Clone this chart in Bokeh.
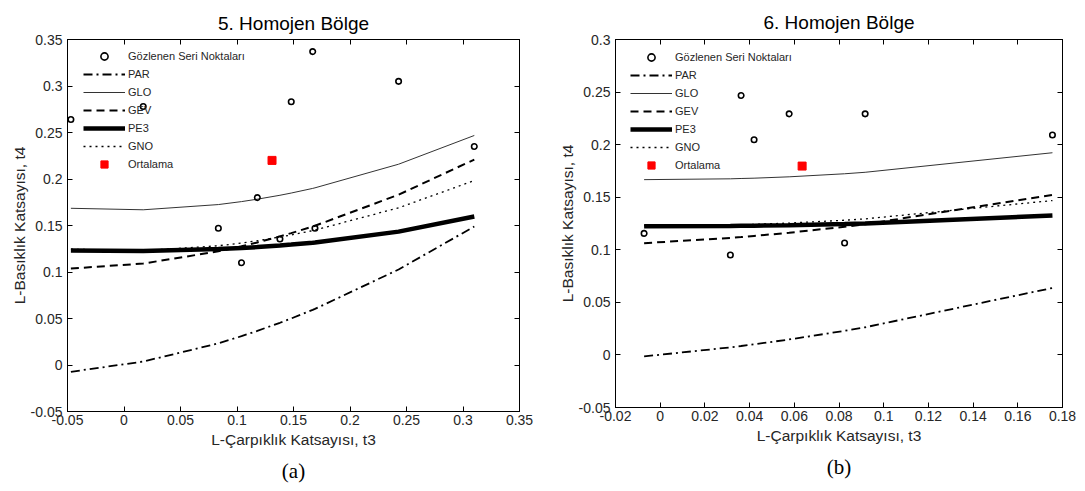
from bokeh.plotting import figure
from bokeh.layouts import row
from bokeh.models import (FixedTicker, Legend, LegendItem, LinearAxis, Range1d,
                          Title, CustomJSTickFormatter)
from bokeh.embed import file_html
from bokeh.resources import INLINE

# ---------------- Panel (a): 5. Homojen Bölge ----------------
title_a = "5. Homojen Bölge"
sub_a = "(a)"
obs_t3_a = [-0.047, 0.017, 0.0835, 0.104, 0.118, 0.138, 0.148, 0.167, 0.169, 0.243, 0.310]
obs_t4_a = [0.264, 0.278, 0.147, 0.110, 0.180, 0.1355, 0.283, 0.337, 0.147, 0.305, 0.235]
mean_t3_a = [0.131]
mean_t4_a = [0.220]
curve_t3_a = [-0.047, 0.017, 0.0835, 0.104, 0.118, 0.138, 0.148, 0.167, 0.169, 0.243, 0.310]
par_a = [-0.0073, 0.0037, 0.0233, 0.0310, 0.0367, 0.0454, 0.0500, 0.0593, 0.0603, 0.1027, 0.1489]
glo_a = [0.1685, 0.1669, 0.1725, 0.1757, 0.1783, 0.1825, 0.1849, 0.1899, 0.1905, 0.2159, 0.2468]
gev_a = [0.1037, 0.1091, 0.1222, 0.1277, 0.1318, 0.1383, 0.1418, 0.1489, 0.1497, 0.1831, 0.2209]
pe3_a = [0.1231, 0.1225, 0.1246, 0.1258, 0.1268, 0.1285, 0.1295, 0.1315, 0.1318, 0.1434, 0.1597]
gno_a = [0.1245, 0.1230, 0.1282, 0.1312, 0.1336, 0.1376, 0.1399, 0.1445, 0.1451, 0.1690, 0.1983]
xticks_a = [-0.05, 0, 0.05, 0.1, 0.15, 0.2, 0.25, 0.3, 0.35]
xlabels_a = ["-0.05", "0", "0.05", "0.1", "0.15", "0.2", "0.25", "0.3", "0.35"]
yticks_a = [-0.05, 0, 0.05, 0.1, 0.15, 0.2, 0.25, 0.3, 0.35]
ylabels_a = ["-0.05", "0", "0.05", "0.1", "0.15", "0.2", "0.25", "0.3", "0.35"]

# ---------------- Panel (b): 6. Homojen Bölge ----------------
title_b = "6. Homojen Bölge"
sub_b = "(b)"
obs_t3_b = [-0.0072, 0.0314, 0.0362, 0.0420, 0.0577, 0.0825, 0.0917, 0.1755]
obs_t4_b = [0.1156, 0.0950, 0.2468, 0.2046, 0.2293, 0.1064, 0.2293, 0.2091]
mean_t3_b = [0.0635]
mean_t4_b = [0.1796]
curve_t3_b = [-0.0072, 0.0314, 0.0362, 0.0420, 0.0577, 0.0825, 0.0917, 0.1755]
par_b = [-0.0014, 0.0072, 0.0085, 0.0101, 0.0147, 0.0229, 0.0263, 0.0637]
glo_b = [0.1667, 0.1675, 0.1678, 0.1681, 0.1694, 0.1723, 0.1737, 0.1923]
gev_b = [0.1063, 0.1113, 0.1121, 0.1132, 0.1162, 0.1219, 0.1243, 0.1522]
pe3_b = [0.1224, 0.1227, 0.1228, 0.1229, 0.1234, 0.1245, 0.1250, 0.1326]
gno_b = [0.1229, 0.1236, 0.1238, 0.1242, 0.1254, 0.1281, 0.1294, 0.1468]
xticks_b = [-0.02, 0, 0.02, 0.04, 0.06, 0.08, 0.1, 0.12, 0.14, 0.16, 0.18]
xlabels_b = ["-0.02", "0", "0.02", "0.04", "0.06", "0.08", "0.1", "0.12", "0.14", "0.16", "0.18"]
yticks_b = [-0.05, 0, 0.05, 0.1, 0.15, 0.2, 0.25, 0.3]
ylabels_b = ["-0.05", "0", "0.05", "0.1", "0.15", "0.2", "0.25", "0.3"]

xlabel = "L-Çarpıklık Katsayısı, t3"
ylabel = "L-Basıklık Katsayısı, t4"
legend_labels = ["Gözlenen Seri Noktaları", "PAR", "GLO", "GEV", "PE3", "GNO", "Ortalama"]

FONT = "Liberation Sans"
TXT = "#262626"


def fmt(ticks, labels):
    return CustomJSTickFormatter(
        args=dict(tvals=ticks, tlabs=labels),
        code="""
        for (let i = 0; i < tvals.length; i++) {
            if (Math.abs(tvals[i] - tick) < 1e-9) { return tlabs[i]; }
        }
        return "";
        """)


BLANK = CustomJSTickFormatter(code="return '';")


def style_axis(ax, ticks, labels, show):
    ax.ticker = FixedTicker(ticks=ticks)
    ax.major_tick_in = 5
    ax.major_tick_out = 0
    ax.minor_tick_in = 0
    ax.minor_tick_out = 0
    ax.minor_tick_line_color = None
    ax.axis_line_color = "black"
    ax.major_tick_line_color = "black"
    if show:
        ax.formatter = fmt(ticks, labels)
        ax.major_label_text_font = FONT
        ax.major_label_text_font_size = "14px"
        ax.major_label_text_color = TXT
        ax.axis_label_text_font = FONT
        ax.axis_label_text_font_size = "15.5px"
        ax.axis_label_text_font_style = "normal"
        ax.axis_label_text_color = TXT
    else:
        ax.formatter = BLANK
        ax.major_label_text_font_size = "1px"
        ax.major_label_standoff = 0


def panel(title, sub, xr, yr, fw, fh, bl, br, bt, bb, xt, xl, yt, yl,
          obs_x, obs_y, mx, my, cx, par, glo, gev, pe3, gno, leg_xy, title_so):
    p = figure(frame_width=fw, frame_height=fh,
               x_range=Range1d(*xr), y_range=Range1d(*yr),
               output_backend="svg", toolbar_location=None,
               min_border_left=bl, min_border_right=br,
               min_border_top=bt, min_border_bottom=bb)
    p.grid.visible = False
    p.background_fill_color = "white"
    p.border_fill_color = "white"
    p.outline_line_color = "black"
    p.outline_line_alpha = 1

    style_axis(p.xaxis[0], xt, xl, True)
    style_axis(p.yaxis[0], yt, yl, True)
    p.xaxis.axis_label = xlabel
    p.yaxis.axis_label = ylabel
    p.xaxis.major_label_standoff = 3
    p.xaxis.axis_label_standoff = 3
    p.yaxis.major_label_standoff = 5
    p.yaxis.axis_label_standoff = 0

    top = LinearAxis()
    style_axis(top, xt, xl, False)
    p.add_layout(top, "above")
    right = LinearAxis()
    style_axis(right, yt, yl, False)
    p.add_layout(right, "right")

    p.title.text = title
    p.title.align = "center"
    p.title.text_font = FONT
    p.title.text_font_size = "19px"
    p.title.text_font_style = "normal"
    p.title.text_color = "black"
    p.title.standoff = title_so

    r_par = p.line(cx, par, line_color="black", line_width=1.8, line_dash="9 4 2 4")
    r_glo = p.line(cx, glo, line_color="#333333", line_width=1)
    r_gev = p.line(cx, gev, line_color="black", line_width=2, line_dash="8 5")
    r_pe3 = p.line(cx, pe3, line_color="black", line_width=4.5)
    r_gno = p.line(cx, gno, line_color="black", line_width=1.3, line_dash="2 4")
    r_obs = p.scatter(obs_x, obs_y, marker="circle", size=5.5, fill_color=None,
                      line_color="black", line_width=1.6)
    r_mean = p.scatter(mx, my, marker="square", size=8, fill_color="#ff0000",
                       line_color="#ff0000")

    rends = [r_obs, r_par, r_glo, r_gev, r_pe3, r_gno, r_mean]
    items = [LegendItem(label=l, renderers=[r]) for l, r in zip(legend_labels, rends)]
    leg = Legend(items=items, location=leg_xy, glyph_width=42, glyph_height=18,
                 label_height=18, label_standoff=3, spacing=0, padding=0, margin=0,
                 border_line_color=None, background_fill_alpha=0,
                 label_text_font=FONT, label_text_font_size="11px",
                 label_text_color=TXT)
    p.add_layout(leg)

    p.add_layout(Title(text=sub, align="center", text_font="Liberation Serif",
                       text_font_size="21px", text_font_style="normal",
                       text_color="black", standoff=12), "below")
    return p


pa = panel(title_a, sub_a, (-0.05, 0.35), (-0.05, 0.35), 452, 372, 67, 26, 35, 84,
           xticks_a, xlabels_a, yticks_a, ylabels_a,
           obs_t3_a, obs_t4_a, mean_t3_a, mean_t4_a, curve_t3_a,
           par_a, glo_a, gev_a, pe3_a, gno_a,
           (16, 238.5), 12)
pb = panel(title_b, sub_b, (-0.02, 0.18), (-0.05, 0.30), 447, 368, 70, 22, 39, 84,
           xticks_b, xlabels_b, yticks_b, ylabels_b,
           obs_t3_b, obs_t4_b, mean_t3_b, mean_t4_b, curve_t3_b,
           par_b, glo_b, gev_b, pe3_b, gno_b,
           (15, 233), 13)

layout = row(pa, pb)
open("out.html", "w").write(file_html(layout, INLINE))
